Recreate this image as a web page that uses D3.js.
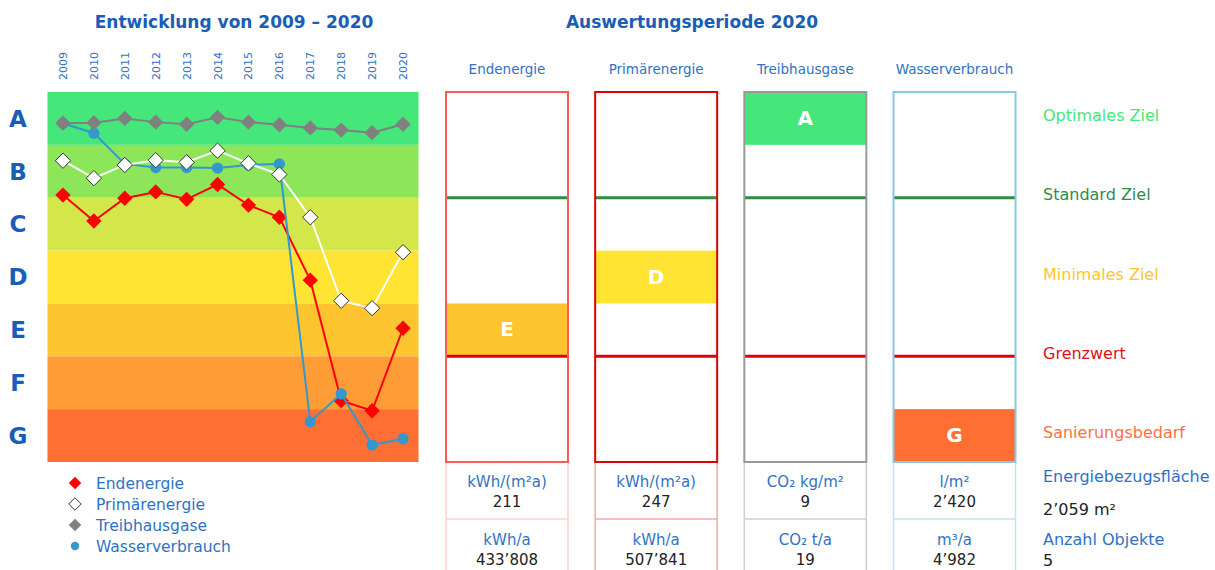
<!DOCTYPE html>
<html>
<head>
<meta charset="utf-8">
<script src="https://cdn.jsdelivr.net/npm/d3@7"></script>
<style>
  body { margin: 0; background: #fff; }
  svg { font-family: "DejaVu Sans", Verdana, sans-serif; }
</style>
</head>
<body>
<svg id="chart" width="1215" height="570"></svg>
<script>
// values are positions on the class scale: 0 = bottom of G, 7 = top of A
var years = ['2009', '2010', '2011', '2012', '2013', '2014', '2015', '2016', '2017', '2018', '2019', '2020'];
var classes = ['A', 'B', 'C', 'D', 'E', 'F', 'G'];
var classColors = ['#45e67a', '#8de65a', '#d3e64a', '#ffe433', '#fec531', '#fe9d36', '#ff6f34'];

var endenergie = [5.05, 4.56, 4.99, 5.11, 4.97, 5.25, 4.86, 4.63, 3.44, 1.16, 0.97, 2.53];
var primaerenergie = [5.70, 5.37, 5.62, 5.71, 5.67, 5.89, 5.65, 5.44, 4.63, 3.05, 2.91, 3.97];
var treibhausgase = [6.41, 6.42, 6.50, 6.43, 6.39, 6.52, 6.43, 6.38, 6.32, 6.28, 6.23, 6.39];
var wasserverbrauch = [6.41, 6.22, 5.64, 5.57, 5.57, 5.56, 5.62, 5.64, 0.76, 1.29, 0.32, 0.44];

var seriesNames = ['Endenergie', 'Primärenergie', 'Treibhausgase', 'Wasserverbrauch'];
var panelClasses = ['E', 'D', 'A', 'G'];
var unitsArea = ['kWh/(m²a)', 'kWh/(m²a)', 'CO₂ kg/m²', 'l/m²'];
var valuesArea = ['211', '247', '9', '2\u2019420'];
var unitsYear = ['kWh/a', 'kWh/a', 'CO₂ t/a', 'm³/a'];
var valuesYear = ['433\u2019808', '507\u2019841', '19', '4\u2019982'];
var targetLabels = ['Optimales Ziel', 'Standard Ziel', 'Minimales Ziel', 'Grenzwert', 'Sanierungsbedarf'];
var infoLabels = ['Energiebezugsfläche', 'Anzahl Objekte'];
var infoValues = ['2\u2019059 m²', '5'];

(function() {
  var blue = '#1a5db5';
  var lightBlue = '#2f72c4';

  var svg = d3.select('#chart');

  var chartTop = 92, chartBottom = 462;
  var band = d3.scaleBand().domain(classes).range([chartTop, chartBottom]);
  var y = d3.scaleLinear().domain([0, 7]).range([chartBottom, chartTop]);
  var x = d3.scalePoint().domain(years).range([47.5, 418.5]).padding(0.5);
  var color = d3.scaleOrdinal().domain(classes).range(classColors);

  // Titles
  svg.append('text')
    .attr('x', 234).attr('y', 28)
    .attr('text-anchor', 'middle')
    .attr('font-size', 17).attr('font-weight', 'bold')
    .attr('fill', blue)
    .text('Entwicklung von 2009 \u2013 2020');

  svg.append('text')
    .attr('x', 692).attr('y', 28)
    .attr('text-anchor', 'middle')
    .attr('font-size', 17).attr('font-weight', 'bold')
    .attr('fill', blue)
    .text('Auswertungsperiode 2020');

  // Left chart: class bands
  svg.append('g').selectAll('rect')
    .data(classes)
    .enter().append('rect')
    .attr('x', x.range()[0])
    .attr('y', function(d) { return band(d); })
    .attr('width', x.range()[1] - x.range()[0])
    .attr('height', band.bandwidth())
    .attr('fill', function(d) { return color(d); });

  svg.append('g').selectAll('text')
    .data(classes)
    .enter().append('text')
    .attr('x', 18)
    .attr('y', function(d) { return band(d) + band.bandwidth() / 2; })
    .attr('dy', '0.36em')
    .attr('text-anchor', 'middle')
    .attr('font-size', 23).attr('font-weight', 'bold')
    .attr('fill', blue)
    .text(function(d) { return d; });

  // Year labels, rotated
  svg.append('g').selectAll('text')
    .data(years)
    .enter().append('text')
    .attr('transform', function(d) { return 'translate(' + (x(d) + 4) + ',80) rotate(-90)'; })
    .attr('font-size', 11)
    .attr('fill', lightBlue)
    .text(function(d) { return d; });

  // Lines
  var line = d3.line()
    .x(function(d, i) { return x(years[i]); })
    .y(function(d) { return y(d); });

  var diamond = d3.symbol().type(d3.symbolDiamond2).size(150);
  var circle = d3.symbol().type(d3.symbolCircle).size(100);

  var series = [
    { values: endenergie, stroke: '#ff0000', fill: '#ff0000', markerStroke: 'none', symbol: diamond },
    { values: primaerenergie, stroke: '#ffffff', fill: '#ffffff', markerStroke: '#333', symbol: diamond },
    { values: treibhausgase, stroke: '#808080', fill: '#808080', markerStroke: 'none', symbol: diamond },
    { values: wasserverbrauch, stroke: '#3399cc', fill: '#3399cc', markerStroke: 'none', symbol: circle }
  ];

  // drawing order as in the picture: white diamonds on top
  [0, 3, 2, 1].forEach(function(k) {
    var s = series[k];
    var g = svg.append('g');
    g.append('path')
      .datum(s.values)
      .attr('d', line)
      .attr('fill', 'none')
      .attr('stroke', s.stroke)
      .attr('stroke-width', 2);
    g.selectAll('path.marker')
      .data(s.values)
      .enter().append('path')
      .attr('class', 'marker')
      .attr('transform', function(d, i) { return 'translate(' + x(years[i]) + ',' + y(d) + ')'; })
      .attr('d', s.symbol)
      .attr('fill', s.fill)
      .attr('stroke', s.markerStroke)
      .attr('stroke-width', 1);
  });

  // Legend
  var legend = svg.append('g').selectAll('g')
    .data(series)
    .enter().append('g')
    .attr('transform', function(d, i) { return 'translate(75,' + (483 + i * 21) + ')'; });

  legend.append('path')
    .attr('d', function(d, i) { return i === 3 ? d3.symbol().type(d3.symbolCircle).size(55)() : d3.symbol().type(d3.symbolDiamond2).size(100)(); })
    .attr('fill', function(d) { return d.fill; })
    .attr('stroke', function(d) { return d.markerStroke === 'none' ? 'none' : '#333'; });

  legend.append('text')
    .attr('x', 21)
    .attr('dy', '0.36em')
    .attr('font-size', 15.5)
    .attr('fill', lightBlue)
    .text(function(d, i) { return seriesNames[i]; });

  // Right panels
  var panelX = d3.scalePoint().domain(seriesNames).range([446, 893.5]);
  var panelW = 122;
  var panelBorders = ['#ff5a5a', '#e00000', '#999999', '#88c8e6'];
  var cellBorders = ['#ffd2d2', '#f4aaaa', '#d0d0d0', '#c4e2f2'];

  var panels = svg.append('g').selectAll('g')
    .data(seriesNames)
    .enter().append('g')
    .attr('transform', function(d) { return 'translate(' + panelX(d) + ',0)'; });

  panels.append('text')
    .attr('x', panelW / 2).attr('y', 74)
    .attr('text-anchor', 'middle')
    .attr('font-size', 13.5)
    .attr('fill', lightBlue)
    .text(function(d) { return d; });

  panels.append('rect')
    .attr('x', 0)
    .attr('y', function(d, i) { return band(panelClasses[i]); })
    .attr('width', panelW)
    .attr('height', band.bandwidth())
    .attr('fill', function(d, i) { return color(panelClasses[i]); });

  panels.append('text')
    .attr('x', panelW / 2)
    .attr('y', function(d, i) { return band(panelClasses[i]) + band.bandwidth() / 2; })
    .attr('dy', '0.33em')
    .attr('text-anchor', 'middle')
    .attr('font-size', 20).attr('font-weight', 'bold')
    .attr('fill', '#fff')
    .text(function(d, i) { return panelClasses[i]; });

  panels.append('line')
    .attr('x1', 0).attr('x2', panelW)
    .attr('y1', band('C')).attr('y2', band('C'))
    .attr('stroke', '#2e8b40').attr('stroke-width', 3);

  panels.append('line')
    .attr('x1', 0).attr('x2', panelW)
    .attr('y1', band('F')).attr('y2', band('F'))
    .attr('stroke', '#e00000').attr('stroke-width', 3);

  panels.append('rect')
    .attr('x', 0).attr('y', chartTop)
    .attr('width', panelW).attr('height', chartBottom - chartTop)
    .attr('fill', 'none')
    .attr('stroke', function(d, i) { return panelBorders[i]; })
    .attr('stroke-width', 2);

  // Value table below the panels
  panels.append('path')
    .attr('d', 'M0,' + (chartBottom + 1) + 'V570M' + panelW + ',' + (chartBottom + 1) + 'V570M0,519H' + panelW)
    .attr('fill', 'none')
    .attr('stroke', function(d, i) { return cellBorders[i]; })
    .attr('stroke-width', 1.5);

  panels.append('text')
    .attr('x', panelW / 2).attr('y', 487)
    .attr('text-anchor', 'middle')
    .attr('font-size', 15)
    .attr('fill', lightBlue)
    .text(function(d, i) { return unitsArea[i]; });

  panels.append('text')
    .attr('x', panelW / 2).attr('y', 507)
    .attr('text-anchor', 'middle')
    .attr('font-size', 15)
    .attr('fill', '#222')
    .text(function(d, i) { return valuesArea[i]; });

  panels.append('text')
    .attr('x', panelW / 2).attr('y', 545)
    .attr('text-anchor', 'middle')
    .attr('font-size', 15)
    .attr('fill', lightBlue)
    .text(function(d, i) { return unitsYear[i]; });

  panels.append('text')
    .attr('x', panelW / 2).attr('y', 565)
    .attr('text-anchor', 'middle')
    .attr('font-size', 15)
    .attr('fill', '#222')
    .text(function(d, i) { return valuesYear[i]; });

  // Target labels on the right
  var targetY = [band('A') + band.bandwidth() / 2, band('C'), band('D') + band.bandwidth() / 2, band('F'), band('G') + band.bandwidth() / 2];
  var targetColors = ['#45e67a', '#2e8b4a', '#fec531', '#e0101a', '#ff7043'];

  svg.append('g').selectAll('text')
    .data(targetLabels)
    .enter().append('text')
    .attr('x', 1043)
    .attr('y', function(d, i) { return targetY[i] - 3; })
    .attr('dy', '0.36em')
    .attr('font-size', 16)
    .attr('fill', function(d, i) { return targetColors[i]; })
    .text(function(d) { return d; });

  // Building info
  var info = svg.append('g');
  infoLabels.forEach(function(label, i) {
    info.append('text')
      .attr('x', 1043).attr('y', 482 + i * 63)
      .attr('font-size', 16)
      .attr('fill', lightBlue)
      .text(label);
    info.append('text')
      .attr('x', 1043).attr('y', 515 + i * 51)
      .attr('font-size', 16)
      .attr('fill', '#222')
      .text(infoValues[i]);
  });
}());
</script>
</body>
</html>
